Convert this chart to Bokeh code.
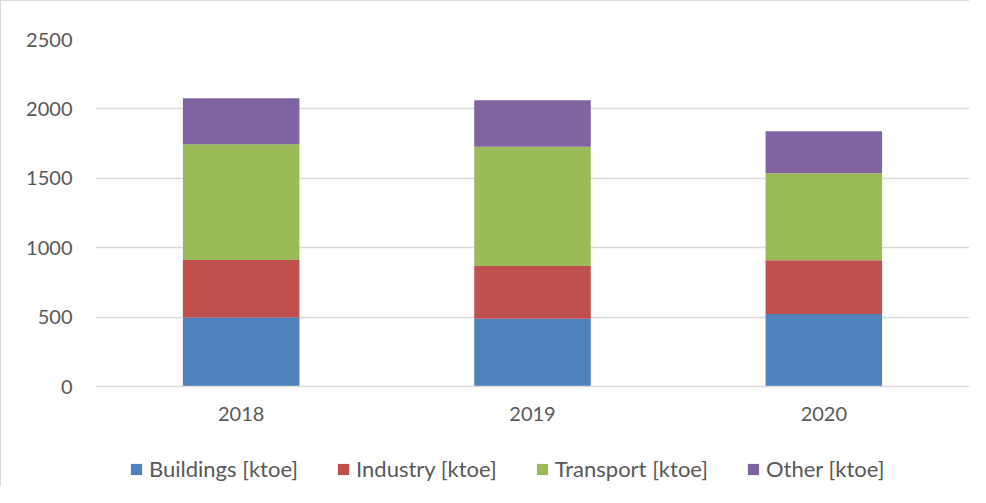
from bokeh.plotting import figure
from bokeh.models import Range1d, FactorRange, Legend, LegendItem, ColumnDataSource
from bokeh.layouts import column
from bokeh.embed import file_html
from bokeh.resources import INLINE

years = ["2018", "2019", "2020"]
buildings = [497, 489, 523]
industry = [414, 379, 386]
transport = [835, 859, 628]
other = [331, 336, 302]
series_names = ["Buildings [ktoe]", "Industry [ktoe]", "Transport [ktoe]", "Other [ktoe]"]
colors = ["#4f81bd", "#c0504d", "#9bbb59", "#8064a2"]
y_ticks = [0, 500, 1000, 1500, 2000, 2500]

FONT = "Lato"
TXT = "#595959"
GRID = "#d9d9d9"

src = ColumnDataSource(dict(years=years, b=buildings, i=industry, t=transport, o=other))

p = figure(x_range=FactorRange(*years, range_padding=0), y_range=Range1d(0, 2500),
           width=969, height=440, output_backend="svg", toolbar_location=None,
           min_border_left=94, min_border_right=1, min_border_top=38, min_border_bottom=55)
p.styles = {"border-left": "1px solid " + GRID, "border-top": "1px solid " + GRID}
p.outline_line_color = None

rs = p.vbar_stack(["b", "i", "t", "o"], x="years", width=0.4, source=src,
                  color=colors, line_color=None)

p.yaxis.ticker = y_ticks
p.yaxis.axis_line_color = None
p.yaxis.major_tick_line_color = None
p.yaxis.minor_tick_line_color = None
p.yaxis.major_label_standoff = 17
p.yaxis.major_label_text_font = FONT
p.yaxis.major_label_text_font_size = "20px"
p.yaxis.major_label_text_color = TXT

p.xaxis.axis_line_color = GRID
p.xaxis.axis_line_width = 1.5
p.xaxis.major_tick_line_color = None
p.xaxis.minor_tick_line_color = None
p.xaxis.major_label_standoff = 14
p.xaxis.major_label_text_font = FONT
p.xaxis.major_label_text_font_size = "20px"
p.xaxis.major_label_text_color = TXT

p.xgrid.grid_line_color = None
p.ygrid.grid_line_color = GRID
p.ygrid.grid_line_width = 1.5

# legend panel (separate small figure so the legend is not clipped)
lp = figure(width=969, height=46, x_range=Range1d(0, 1), y_range=Range1d(0, 1),
            output_backend="svg", toolbar_location=None,
            min_border_left=0, min_border_right=0, min_border_top=0, min_border_bottom=0)
lp.styles = {"border-left": "1px solid " + GRID}
lp.axis.visible = False
lp.grid.visible = False
lp.outline_line_color = None
# zero-height proxy bars: they only carry the legend swatches
proxy = ColumnDataSource(dict(x=[0.5], top=[0], bottom=[0]))
lrs = [lp.vbar(x="x", top="top", bottom="bottom", width=0.1, source=proxy,
               color=c, line_color=None) for c in colors]

legend = Legend(items=[LegendItem(label=n, renderers=[r]) for n, r in zip(series_names, lrs)],
                orientation="horizontal", location=(34, 4),
                glyph_width=14, glyph_height=14, label_standoff=6, spacing=38,
                padding=0, margin=0, border_line_color=None, background_fill_alpha=0,
                label_text_font=FONT, label_text_font_size="22px", label_text_color=TXT)
lp.add_layout(legend, "center")

layout = column(p, lp, spacing=0)
open("out.html", "w").write(file_html(layout, INLINE))
